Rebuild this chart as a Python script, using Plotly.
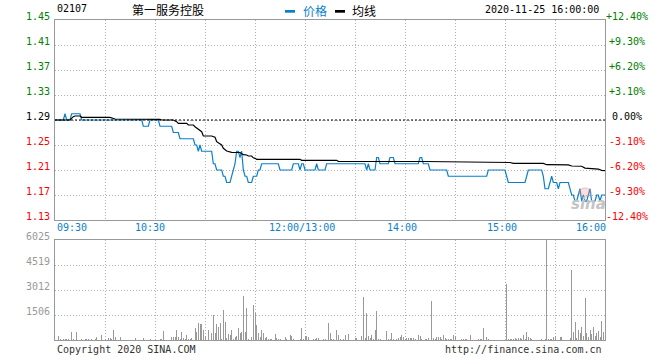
import plotly.graph_objects as go

# ---------------- data ----------------
code = "02107"
name = "第一服务控股"
stamp = "2020-11-25 16:00:00"
prev_close = 1.29

# minute index since 09:30 (lunch 12:00-13:00 removed), price steps
seg_start = [0, 6, 7, 10, 16, 53, 57, 63, 71, 75, 84, 86, 87, 88, 95, 97, 101, 103, 106, 107,
             108, 109, 111, 112, 113, 114, 116, 119, 122, 124, 135, 143, 147, 148, 150, 157, 158, 163, 187, 188,
             189, 193, 195, 201, 204, 219, 221, 225, 236, 260, 271, 272, 283, 284, 293, 294, 297, 298, 299, 302,
             303, 309, 310, 312, 314, 315, 316, 317, 318, 320, 321, 322, 325, 327, 328]
seg_price = [1.29, 1.30, 1.29, 1.30, 1.29, 1.28, 1.29, 1.28, 1.27, 1.26, 1.25, 1.24, 1.25, 1.24, 1.22, 1.21, 1.20, 1.19, 1.20, 1.21,
             1.22, 1.24, 1.23, 1.24, 1.21, 1.20, 1.19, 1.20, 1.21, 1.22, 1.21, 1.22, 1.21, 1.22, 1.21, 1.22, 1.21, 1.22, 1.21, 1.22,
             1.21, 1.23, 1.22, 1.23, 1.22, 1.23, 1.22, 1.21, 1.20, 1.21, 1.20, 1.19, 1.20, 1.21, 1.20, 1.18, 1.19, 1.20, 1.19, 1.18,
             1.19, 1.18, 1.17, 1.16, 1.17, 1.18, 1.16, 1.17, 1.16, 1.17, 1.18, 1.16, 1.17, 1.16, 1.17]
last_minute = 330

avg_min = [0, 9, 11, 12, 15, 16, 33, 35, 36, 63, 64, 71, 72, 73, 74, 79, 80, 83, 84, 88,
           89, 94, 96, 97, 100, 101, 103, 106, 111, 113, 115, 116, 118, 119, 120, 121, 147, 148, 169, 170,
           222, 240, 273, 275, 293, 295, 308, 310, 316, 318, 326, 328, 330]
avg_val = [1.290, 1.290, 1.2953, 1.2964, 1.2964, 1.2943, 1.2943, 1.2927, 1.2916, 1.2911, 1.2900, 1.2900, 1.2889, 1.2873, 1.2847, 1.2847, 1.2820, 1.2820, 1.2793, 1.2713,
           1.2644, 1.2644, 1.2623, 1.2553, 1.2500, 1.2447, 1.2404, 1.2383, 1.2380, 1.2345, 1.2340, 1.2324, 1.2324, 1.2295, 1.2287, 1.2271, 1.2271, 1.2255, 1.2255, 1.2239,
           1.2236, 1.2228, 1.2220, 1.2207, 1.2205, 1.2185, 1.2183, 1.2164, 1.2160, 1.2130, 1.2115, 1.2095, 1.2090]

vol_min = [2, 3, 5, 6, 7, 8, 10, 11, 13, 16, 18, 19, 20, 22, 24, 25, 28, 30, 32, 33,
           34, 35, 36, 39, 48, 53, 57, 63, 64, 65, 70, 71, 72, 73, 74, 75, 76, 77, 78, 79,
           80, 81, 82, 84, 85, 86, 87, 88, 89, 90, 92, 94, 95, 96, 97, 98, 99, 100, 101, 102,
           103, 104, 105, 106, 107, 108, 109, 110, 111, 112, 113, 114, 115, 116, 118, 119, 120, 121, 122, 123,
           124, 125, 126, 127, 128, 129, 130, 132, 133, 134, 135, 138, 139, 141, 142, 143, 147, 148, 149, 150,
           151, 152, 155, 156, 157, 158, 161, 162, 164,
           165, 166, 167, 169, 170, 171, 173, 174, 176, 180, 181, 184, 185, 186, 187, 188, 189, 190, 191, 192,
           193, 194, 195, 199, 200, 201, 202, 203, 205, 206, 207, 208, 209, 210, 211, 212, 213, 214, 215, 216,
           218, 219, 220, 222, 223, 224, 226, 227, 228, 229, 230, 231, 232, 233, 234, 235, 236, 237, 238, 239,
           240, 244, 245, 246, 247, 249, 254, 255, 256, 257, 259, 260, 271, 272, 273, 274, 275, 276, 277, 278,
           279, 280, 281, 282, 283, 284, 285, 286, 292, 294, 295, 296, 297, 298, 299, 300, 303, 304, 309, 310,
           311, 312, 313, 314, 315, 316, 317, 318, 319, 320, 321, 322, 323, 324, 325, 326, 327, 328, 329, 330]
vol_val = [240, 80, 80, 80, 80, 80, 480, 60, 480, 60, 40, 60, 40, 60, 40, 180, 300, 60, 120, 120,
           40, 600, 160, 180, 120, 120, 60, 60, 60, 540, 160, 200, 160, 600, 200, 40, 480, 140, 40, 300,
           60, 40, 140, 720, 500, 1020, 960, 960, 620, 260, 600, 440, 1500, 440, 960, 800, 1040, 80, 1800, 1080,
           120, 360, 300, 600, 80, 160, 240, 720, 440, 480, 2650, 480, 1930, 40, 160, 2130, 1600, 900, 400, 200,
           600, 400, 120, 160, 80, 80, 40, 360, 120, 40, 80, 160, 80, 280, 240, 80, 80, 700, 80, 240,
           240, 180, 40, 80, 120, 120, 80, 80, 1040,
           440, 80, 80, 600, 320, 80, 40, 300, 360, 100, 100, 240, 2610, 100, 1650, 240, 100, 300, 60, 600,
           1770, 40, 60, 560, 60, 60, 440, 60, 60, 100, 160, 320, 160, 60, 120, 120, 120, 120, 120, 60,
           320, 260, 60, 60, 60, 120, 2370, 120, 40, 160, 200, 200, 80, 320, 100, 40, 60, 60, 80, 300,
           240, 80, 60, 80, 60, 320, 40, 60, 60, 720, 200, 80, 3370, 80, 80, 60, 80, 100, 80, 120,
           120, 80, 320, 60, 500, 200, 120, 40, 40, 40, 6025, 60, 60, 80, 160, 240, 200, 200, 100, 4220,
           500, 1080, 100, 600, 400, 800, 240, 2540, 400, 160, 600, 360, 800, 240, 400, 560, 200, 1160, 500, 2010]

price_ticks = [1.13, 1.17, 1.21, 1.25, 1.29, 1.33, 1.37, 1.41, 1.45]
price_labels = ["1.13", "1.17", "1.21", "1.25", "1.29", "1.33", "1.37", "1.41", "1.45"]
pct_labels = ["-12.40%", "-9.30%", "-6.20%", "-3.10%", "0.00%", "+3.10%", "+6.20%", "+9.30%", "+12.40%"]
vol_max = 6025
vol_ticks = [1506, 3012, 4519, 6025]
vol_labels = ["1506", "3012", "4519", "6025"]
grid_minutes = [0, 30, 60, 90, 120, 150, 180, 210, 240, 270, 300, 330]
time_ticks = [0, 60, 150, 210, 270, 330]
time_labels = ["09:30", "10:30", "12:00/13:00", "14:00", "15:00", "16:00"]

# ---------------- style ----------------
BLUE = "#0a7fcc"
GRID = "#b0b0b0"
FRAME = "#999999"
MONO = "DejaVu Sans Mono"
CJK = "Noto Sans CJK SC"
L, R, T, B = 55, 605, 20, 340
W, H = 660, 360


def px(xp):
    return (xp - L) / (R - L)


def py(yp):
    return (B - yp) / (B - T)


# step points of the minute price series
line_x, line_y = [], []
for i, s in enumerate(seg_start):
    e = seg_start[i + 1] - 1 if i + 1 < len(seg_start) else last_minute
    line_x.append(s)
    line_y.append(seg_price[i])
    if e > s:
        line_x.append(e)
        line_y.append(seg_price[i])

fig = go.Figure()
fig.add_trace(go.Scatter(x=line_x, y=line_y, mode="lines", line=dict(color=BLUE, width=1.2),
                         xaxis="x", yaxis="y", hoverinfo="skip"))
fig.add_trace(go.Scatter(x=avg_min, y=avg_val, mode="lines", line=dict(color="black", width=1.2),
                         xaxis="x", yaxis="y", hoverinfo="skip"))
fig.add_trace(go.Bar(x=vol_min, y=vol_val, width=0.6, marker=dict(color="#999999", line_width=0),
                     xaxis="x2", yaxis="y2", hoverinfo="skip"))

axis_common = dict(showticklabels=False, showgrid=True, gridcolor=GRID, griddash="1px,2px", gridwidth=1,
                   showline=True, mirror=True, linecolor=FRAME, linewidth=1, zeroline=False, ticks="",
                   fixedrange=True)

vol_top_frac = (B - 240) / (B - T)
price_bot_frac = (B - 220) / (B - T)

fig.update_layout(
    width=W, height=H, margin=dict(l=L, r=W - R, t=T, b=H - B, pad=0),
    paper_bgcolor="white", plot_bgcolor="white", showlegend=False, bargap=0,
    xaxis=dict(domain=[0, 1], range=[0, last_minute], tickvals=grid_minutes, anchor="y", **axis_common),
    yaxis=dict(domain=[price_bot_frac, 1], range=[price_ticks[0], price_ticks[-1]], tickvals=price_ticks,
               anchor="x", **axis_common),
    xaxis2=dict(domain=[0, 1], range=[0, last_minute], tickvals=grid_minutes, anchor="y2", **axis_common),
    yaxis2=dict(domain=[0, vol_top_frac], range=[0, vol_max], tickvals=vol_ticks, anchor="x2", **axis_common),
)

# previous close dashed line
fig.add_shape(type="line", xref="x", yref="y", x0=0, x1=last_minute, y0=prev_close, y1=prev_close,
              line=dict(color="black", width=1, dash="2px,2px"), layer="above")

ann = []


def text(xp, yp, s, color="black", size=10, family=MONO, xanchor="left", **kw):
    ann.append(dict(x=px(xp), y=py(yp), xref="paper", yref="paper", text=s, showarrow=False,
                    xanchor=xanchor, yanchor="middle", font=dict(family=family, size=size, color=color, **kw)))


# price axis labels
for v, lab, pl in zip(price_ticks, price_labels, pct_labels):
    ypix = 220 - (v - price_ticks[0]) / (price_ticks[-1] - price_ticks[0]) * 200
    if v > prev_close + 1e-9:
        c = "#008000"
    elif v < prev_close - 1e-9:
        c = "#ff0000"
    else:
        c = "black"
    text(52, ypix - 3.3, lab, color=c, xanchor="right")
    text(627, ypix - 3.3, pl, color=c, xanchor="center")

# volume axis labels
for v, lab in zip(vol_ticks, vol_labels):
    ypix = 340 - v / vol_max * 100
    text(52, ypix - 3.3, lab, color="#999999", xanchor="right")

# time labels
time_pos = {0: (55, "left"), 60: (149.5, "center"), 150: (301.5, "center"), 210: (402, "center"),
            270: (502, "center"), 330: (608, "right")}
for m, lab in zip(time_ticks, time_labels):
    xp, anc = time_pos[m]
    text(xp, 227.5, lab, color=BLUE, xanchor=anc)

# header
text(55, 8.7, code)
text(130, 9.8, name, family=CJK, size=12)
text(301, 10, "价格", color=BLUE, family=CJK, size=12)
text(350, 10, "均线", family=CJK, size=12)
text(601, 9.3, stamp, xanchor="right")

# footer
text(55, 349.5, "Copyright 2020 SINA.COM", color="#333333")
text(604, 349.5, "http://finance.sina.com.cn", color="#333333", xanchor="right")

# watermark
ann.append(dict(x=px(588), y=py(204), xref="paper", yref="paper", text="sina", showarrow=False,
                xanchor="center", yanchor="middle",
                font=dict(family="DejaVu Sans", size=15, color="#c4c4c4", weight="bold", style="italic")))

fig.update_layout(annotations=ann)

# watermark eye logo (faint pink)
fig.add_shape(type="circle", xref="paper", yref="paper", x0=px(579), x1=px(591), y0=py(197), y1=py(188),
              fillcolor="rgba(240,150,150,0.30)", line=dict(color="rgba(235,130,130,0.45)", width=1),
              layer="above")

# legend swatches
fig.add_shape(type="rect", xref="paper", yref="paper", x0=px(285), x1=px(295), y0=py(12.7), y1=py(10),
              fillcolor=BLUE, line_width=0)
fig.add_shape(type="rect", xref="paper", yref="paper", x0=px(335), x1=px(345), y0=py(12.7), y1=py(10),
              fillcolor="black", line_width=0)

fig.write_html("out.html", config={"displayModeBar": False, "staticPlot": True},
               post_script="document.body.style.margin='0';document.body.style.padding='0';"
                           "document.body.style.overflow='hidden';")
